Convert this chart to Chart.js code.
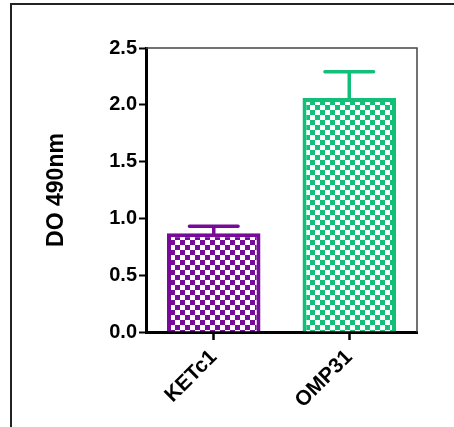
<!DOCTYPE html>
<html>
<head>
<meta charset="utf-8">
<script src="https://cdn.jsdelivr.net/npm/chart.js@4.4.1/dist/chart.umd.min.js"></script>
<style>
  html, body { margin: 0; padding: 0; background: #fff; }
  #wrap { width: 454px; height: 427px; }
</style>
</head>
<body>
<div id="wrap"><canvas id="odChart" width="454" height="427"></canvas></div>
<script>
const categories = ['KETc1', 'OMP31'];
const meanValues = [0.87, 2.06];
const errorValues = [0.06, 0.23];   // upper error (SEM)
const barColors = ['#770a98', '#12bf79'];
const yTicks = [0, 0.5, 1.0, 1.5, 2.0, 2.5];

// checkerboard fill like the original bars
function checker(color) {
    const c = document.createElement('canvas');
    const s = 5;
    c.width = s * 2;
    c.height = s * 2;
    const g = c.getContext('2d');
    g.fillStyle = '#ffffff';
    g.fillRect(0, 0, s * 2, s * 2);
    g.fillStyle = color;
    g.fillRect(0, 0, s, s);
    g.fillRect(s, s, s, s);
    return g.createPattern(c, 'repeat');
}

const frame = {
    id: 'frame',
    afterDraw(chart) {
        const ctx = chart.ctx;
        const a = chart.chartArea;
        ctx.save();
        // outer frame (left + top only visible)
        ctx.strokeStyle = '#222';
        ctx.lineWidth = 2;
        ctx.beginPath();
        ctx.moveTo(11, 427);
        ctx.lineTo(11, 4);
        ctx.lineTo(454, 4);
        ctx.stroke();
        // thin box on top and right of plot
        ctx.strokeStyle = '#444';
        ctx.lineWidth = 1.5;
        ctx.beginPath();
        ctx.moveTo(a.left, a.top);
        ctx.lineTo(a.right, a.top);
        ctx.lineTo(a.right, a.bottom);
        ctx.stroke();
        ctx.restore();
    }
};

const errorBars = {
    id: 'errorBars',
    afterDatasetsDraw(chart) {
        const ctx = chart.ctx;
        const meta = chart.getDatasetMeta(0);
        const y = chart.scales.y;
        ctx.save();
        ctx.lineCap = 'round';
        meta.data.forEach((bar, i) => {
            const top = y.getPixelForValue(meanValues[i] + errorValues[i]);
            const base = y.getPixelForValue(meanValues[i]);
            const half = bar.width * 0.26;
            ctx.strokeStyle = barColors[i];
            ctx.lineWidth = 3.5;
            ctx.beginPath();
            ctx.moveTo(bar.x, base);
            ctx.lineTo(bar.x, top);
            ctx.moveTo(bar.x - half, top);
            ctx.lineTo(bar.x + half, top);
            ctx.stroke();
        });
        ctx.restore();
    }
};

const ctx = document.getElementById('odChart').getContext('2d');
new Chart(ctx, {
    type: 'bar',
    data: {
        labels: categories,
        datasets: [{
            data: meanValues,
            backgroundColor: barColors.map(checker),
            borderColor: barColors,
            borderWidth: 4,
            borderSkipped: 'bottom',
            categoryPercentage: 1,
            barPercentage: 0.69
        }]
    },
    options: {
        responsive: false,
        animation: false,
        layout: { padding: { left: 0, top: 48, right: 37, bottom: 0 } },
        plugins: {
            legend: { display: false },
            tooltip: { enabled: false }
        },
        scales: {
            x: {
                offset: true,
                grid: {
                    offset: false,
                    drawOnChartArea: false,
                    tickLength: 8,
                    tickWidth: 2.5,
                    tickColor: '#000'
                },
                border: { color: '#000', width: 3 },
                ticks: {
                    color: '#000',
                    font: { family: 'Liberation Sans, Arial, sans-serif', size: 21, weight: 'bold' },
                    minRotation: 45,
                    maxRotation: 45,
                    padding: 5
                },
                afterFit(scale) { scale.height = 95; }
            },
            y: {
                min: 0,
                max: 2.5,
                afterBuildTicks(scale) { scale.ticks = yTicks.map(v => ({ value: v })); },
                grid: {
                    drawOnChartArea: false,
                    tickLength: 7,
                    tickWidth: 2,
                    tickColor: '#000'
                },
                border: { color: '#000', width: 3 },
                ticks: {
                    color: '#000',
                    padding: 2,
                    font: { family: 'Liberation Sans, Arial, sans-serif', size: 20, weight: 'bold' },
                    callback: v => Number(v).toFixed(1)
                },
                title: {
                    display: true,
                    text: 'DO 490nm',
                    color: '#000',
                    font: { family: 'Liberation Sans, Arial, sans-serif', size: 23, weight: 'bold' },
                    padding: { top: 43, bottom: 0 }
                },
                afterFit(scale) { scale.width = 146; }
            }
        }
    },
    plugins: [frame, errorBars]
});
</script>
</body>
</html>
